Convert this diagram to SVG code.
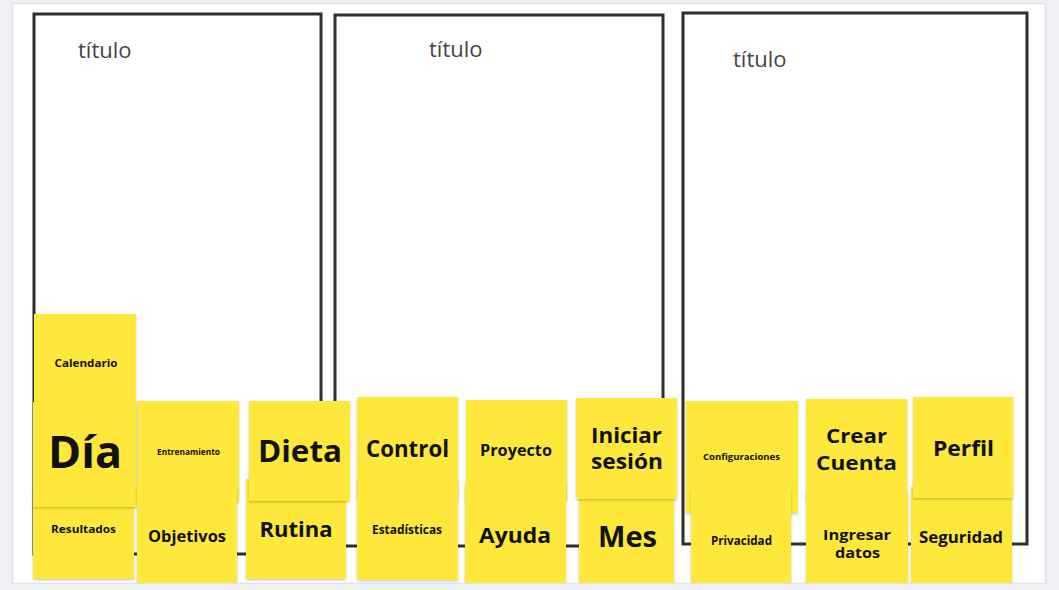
<svg xmlns="http://www.w3.org/2000/svg" width="1059" height="590" viewBox="0 0 1059 590">
<defs>
<filter id="sh" x="-10%" y="-10%" width="120%" height="125%">
<feDropShadow dx="0" dy="1.2" stdDeviation="1" flood-color="#000" flood-opacity="0.22"/>
</filter>
<clipPath id="canvas"><rect x="13" y="4" width="1032" height="579"/></clipPath>
</defs>
<style>
.frame{fill:#fff;stroke:#2e2e2e;stroke-width:3}
.ttl{font-family:"Open Sans","Noto Sans",sans-serif;font-size:22px;fill:#454545}
.st{fill:#fee83b;filter:url(#sh)}
.t{font-family:"Open Sans","Noto Sans","Liberation Sans",sans-serif;font-weight:700;fill:#111;text-anchor:middle}
</style>
<rect x="0" y="0" width="1059" height="590" fill="#eff0f3"/>
<rect x="12.5" y="3.5" width="1033" height="580" fill="#fff" stroke="#e1e3e7" stroke-width="1.5"/>

<g id="frame1"><rect class="frame" x="34" y="14" width="287" height="540"/><text class="ttl" x="78" y="58">título</text></g>
<g id="frame2"><rect class="frame" x="335" y="15" width="328" height="531"/><text class="ttl" x="429" y="57">título</text></g>
<g id="frame3"><rect class="frame" x="683" y="13" width="344" height="531"/><text class="ttl" x="733" y="67">título</text></g>

<g id="connectors"></g>

<g clip-path="url(#canvas)">
<g id="calendario"><rect class="st" x="34" y="314" width="102" height="88"/><text class="t" x="86" y="367" font-size="11" textLength="63" lengthAdjust="spacingAndGlyphs">Calendario</text></g>
<g id="resultados"><rect class="st" x="33" y="490" width="101" height="89"/><text class="t" x="83.5" y="533" font-size="11" textLength="65" lengthAdjust="spacingAndGlyphs">Resultados</text></g>
<g id="dia"><rect class="st" x="33" y="402" width="104" height="105"/><text class="t" x="85" y="468" font-size="44" textLength="74" lengthAdjust="spacingAndGlyphs">Día</text></g>

<g id="entrenamiento"><rect class="st" x="138" y="401" width="101" height="101"/><text class="t" x="188.5" y="455" font-size="8" textLength="63" lengthAdjust="spacingAndGlyphs">Entrenamiento</text></g>
<g id="objetivos"><rect class="st" x="137" y="485" width="100" height="100"/><text class="t" x="187" y="542" font-size="16" textLength="78" lengthAdjust="spacingAndGlyphs">Objetivos</text></g>

<g id="rutina"><rect class="st" x="246" y="479" width="100" height="100"/><text class="t" x="296" y="537" font-size="22" textLength="73" lengthAdjust="spacingAndGlyphs">Rutina</text></g>
<g id="dieta"><rect class="st" x="249" y="401" width="101" height="100"/><text class="t" x="300" y="462" font-size="31" textLength="84" lengthAdjust="spacingAndGlyphs">Dieta</text></g>

<g id="control"><rect class="st" x="357" y="397" width="101" height="102"/><text class="t" x="407.5" y="457" font-size="24" textLength="83" lengthAdjust="spacingAndGlyphs">Control</text></g>
<g id="estadisticas"><rect class="st" x="357" y="479" width="101" height="101"/><text class="t" x="407" y="534" font-size="12" textLength="70" lengthAdjust="spacingAndGlyphs">Estadísticas</text></g>

<g id="proyecto"><rect class="st" x="466" y="400" width="101" height="100"/><text class="t" x="516" y="456" font-size="16" textLength="72" lengthAdjust="spacingAndGlyphs">Proyecto</text></g>
<g id="ayuda"><rect class="st" x="465" y="484" width="101" height="101"/><text class="t" x="515" y="543" font-size="21" textLength="72" lengthAdjust="spacingAndGlyphs">Ayuda</text></g>

<g id="mes"><rect class="st" x="579" y="490" width="95" height="95"/><text class="t" x="627.5" y="547" font-size="28" textLength="59" lengthAdjust="spacingAndGlyphs">Mes</text></g>
<g id="iniciar"><rect class="st" x="576" y="398" width="101" height="101"/><text class="t" x="626.5" y="443" font-size="21" textLength="71" lengthAdjust="spacingAndGlyphs">Iniciar</text><text class="t" x="627" y="469" font-size="21" textLength="72" lengthAdjust="spacingAndGlyphs">sesión</text></g>

<g id="configuraciones"><rect class="st" x="686" y="401" width="112" height="112"/><text class="t" x="741.5" y="460" font-size="9.5" textLength="77" lengthAdjust="spacingAndGlyphs">Configuraciones</text></g>
<g id="privacidad"><rect class="st" x="691" y="490" width="100" height="95"/><text class="t" x="741.5" y="545" font-size="12" textLength="61" lengthAdjust="spacingAndGlyphs">Privacidad</text></g>

<g id="crear"><rect class="st" x="806" y="399" width="101" height="101"/><text class="t" x="856.5" y="443" font-size="20" textLength="61" lengthAdjust="spacingAndGlyphs">Crear</text><text class="t" x="856.5" y="470" font-size="20" textLength="81" lengthAdjust="spacingAndGlyphs">Cuenta</text></g>
<g id="ingresar"><rect class="st" x="806" y="492" width="102" height="93"/><text class="t" x="857" y="540" font-size="14.5" textLength="68" lengthAdjust="spacingAndGlyphs">Ingresar</text><text class="t" x="857.5" y="558" font-size="14.5" textLength="45" lengthAdjust="spacingAndGlyphs">datos</text></g>

<g id="seguridad"><rect class="st" x="911" y="487" width="101" height="98"/><text class="t" x="961" y="543" font-size="15.5" textLength="84" lengthAdjust="spacingAndGlyphs">Seguridad</text></g>
<g id="perfil"><rect class="st" x="913" y="397" width="100" height="101"/><text class="t" x="963.5" y="456" font-size="22" textLength="61" lengthAdjust="spacingAndGlyphs">Perfil</text></g>
</g>
</svg>
